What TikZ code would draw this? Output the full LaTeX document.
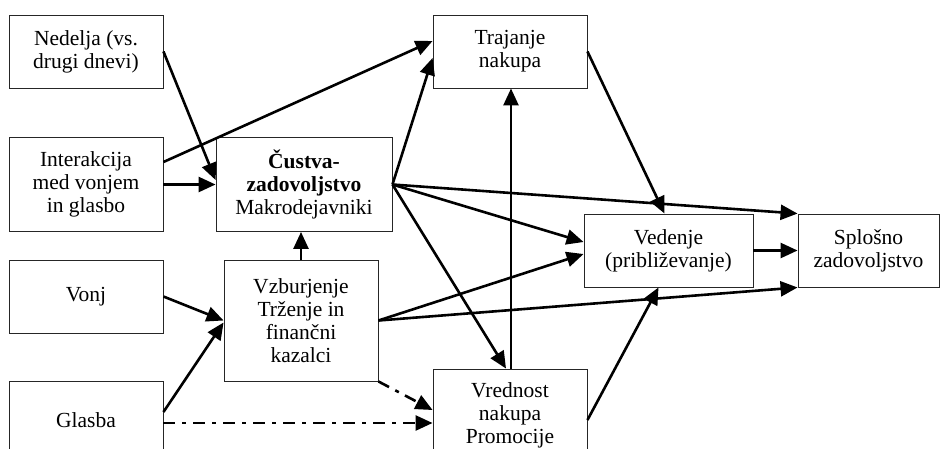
\documentclass[tikz,border=0pt]{standalone}
\usepackage{fontspec}
\setmainfont{Liberation Serif}
\usetikzlibrary{arrows.meta,calc}

\tikzset{
  box/.style={draw=black!85, line width=0.9pt, rectangle, align=center,
    inner sep=0pt, font=\fontsize{21.5}{23}\selectfont},
  conn/.style={line width=2.6pt, -{Triangle[length=17pt,width=15pt]}},
  dashdot/.style={conn, dash pattern=on 12pt off 7pt on 4pt off 7pt}
}

\begin{document}
\begin{tikzpicture}[x=1pt,y=-1pt]
  \useasboundingbox (0,0) rectangle (940,448);
  \clip (0,0) rectangle (940,448);

  % boxes
  \node[box, minimum width=154pt, minimum height=73pt] (ned) at (86,51.5)
    {Nedelja (vs.\\drugi dnevi)};
  \node[box, minimum width=154pt, minimum height=94pt] (int) at (86,184.5)
    {Interakcija\\med vonjem\\in glasbo};
  \node[box, minimum width=176pt, minimum height=94pt] (cus) at (304,184.5)
    {\textbf{Čustva-}\\\textbf{zadovoljstvo}\\Makrodejavniki};
  \node[box, minimum width=154pt, minimum height=73pt] (tra) at (510,51.5)
    {Trajanje\\nakupa};
  \node[box, minimum width=169pt, minimum height=73pt] (ved) at (668.5,250.5)
    {Vedenje\\(približevanje)};
  \node[box, minimum width=141pt, minimum height=73pt] (spl) at (868.5,250.5)
    {Splošno\\zadovoljstvo};
  \node[box, minimum width=154pt, minimum height=73pt] (vonj) at (86,296.5)
    {Vonj};
  \node[box, minimum width=154pt, minimum height=121pt] (vzb) at (301,320.5)
    {Vzburjenje\\Trženje in\\finančni\\kazalci};
  \node[box, minimum width=154pt, minimum height=78pt] (glas) at (86,420)
    {Glasba};
  \node[box, minimum width=154pt, minimum height=92pt] (vred) at (510,415)
    {Vrednost\\nakupa\\Promocije};

  % connectors
  \draw[conn] (ned.east) -- ([yshift=4.5pt]cus.west);
  \draw[conn] ([yshift=22.5pt]int.east) -- ([yshift=10.5pt]tra.west);
  \draw[conn] (int.east) -- (cus.west);
  \draw[conn] (cus.east) -- ([yshift=-6.5pt]tra.west);
  \draw[conn] (cus.east) -- (spl.north west);
  \draw[conn] (cus.east) -- ([yshift=8.5pt]ved.west);
  \draw[conn] (cus.east) -- ([xshift=-4pt]vred.north);
  \draw[conn] (tra.east) -- ([xshift=-4pt]ved.north);
  \draw[conn] ([xshift=1pt]vred.north) -- ([xshift=1pt]tra.south);
  \draw[conn] (vzb.north) -- (vzb.north |- cus.south);
  \draw[conn] (vonj.east) -- (vzb.west);
  \draw[conn] ([yshift=8pt]glas.east) -- ([yshift=-2pt]vzb.west);
  \coordinate (ga) at ([yshift=-3pt]glas.east);
  \draw[dashdot] (ga) -- (ga -| vred.west);
  \draw[dashdot] (vzb.south east) -- ([yshift=5pt]vred.west);
  \draw[conn] (vzb.east) -- ([yshift=-3.5pt]ved.west);
  \draw[conn] (vzb.east) -- (spl.south west);
  \draw[conn] (ved.east) -- (spl.west);
  \draw[conn] ([yshift=-5pt]vred.east) -- ([xshift=-10pt]ved.south);
\end{tikzpicture}
\end{document}
